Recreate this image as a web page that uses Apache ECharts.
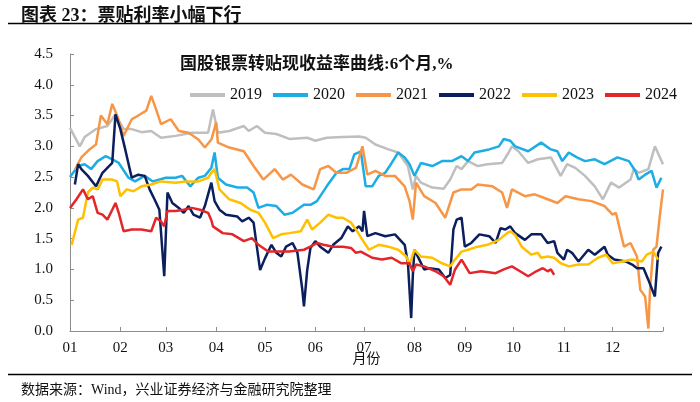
<!DOCTYPE html>
<html>
<head>
<meta charset="utf-8">
<script src="https://cdn.jsdelivr.net/npm/echarts@6/dist/echarts.min.js"></script>
<style>html,body{margin:0;padding:0;background:#fff}#c{width:700px;height:402px}</style>
</head>
<body>
<div id="c"></div>
<script>
const monthStarts = [0, 31, 59, 90, 120, 151, 181, 212, 243, 273, 304, 334];
const monthLabels = ['01', '02', '03', '04', '05', '06', '07', '08', '09', '10', '11', '12'];
const yTicks = [0, 0.5, 1, 1.5, 2, 2.5, 3, 3.5, 4, 4.5];
const seriesNames = ['2019', '2020', '2021', '2022', '2023', '2024'];

const s2019 = [[0,3.30],[6,3.00],[9,3.15],[16,3.28],[23,3.33],[28,3.52],[33,3.28],[38,3.28],[44,3.23],[50,3.25],[56,3.14],[65,3.17],[75,3.22],[85,3.22],[88,3.60],[91,3.22],[98,3.25],[107,3.33],[110,3.25],[115,3.33],[120,3.22],[127,3.20],[135,3.12],[146,3.14],[151,3.09],[158,3.14],[168,3.15],[178,3.16],[182,3.14],[188,3.03],[196,2.95],[202,2.90],[208,2.68],[211,2.30],[213,2.52],[216,2.41],[223,2.33],[230,2.31],[234,2.46],[238,2.68],[241,2.63],[245,2.76],[251,2.68],[257,2.71],[266,2.73],[270,2.90],[272,3.00],[276,2.92],[282,2.73],[288,2.79],[296,2.82],[302,2.52],[306,2.71],[311,2.65],[317,2.52],[323,2.35],[328,2.14],[333,2.41],[338,2.33],[345,2.46],[347,2.63],[350,2.57],[356,2.63],[360,3.00],[365,2.71]];
const s2020 = [[0,2.50],[5,2.68],[9,2.71],[13,2.63],[17,2.76],[22,2.84],[26,2.79],[30,2.73],[36,2.49],[40,2.43],[46,2.52],[51,2.43],[59,2.49],[65,2.49],[69,2.52],[74,2.35],[79,2.49],[83,2.52],[87,2.65],[89,2.90],[91,2.49],[96,2.38],[103,2.33],[109,2.33],[113,2.25],[116,2.00],[121,2.05],[127,2.03],[132,1.89],[137,1.92],[144,2.05],[148,2.05],[152,2.11],[158,2.35],[164,2.57],[168,2.63],[172,2.63],[175,2.87],[179,2.92],[182,2.35],[186,2.35],[190,2.52],[194,2.57],[198,2.73],[202,2.90],[206,2.82],[209,2.71],[212,2.52],[216,2.73],[223,2.68],[229,2.76],[235,2.76],[241,2.84],[245,2.76],[249,2.90],[258,2.95],[264,3.00],[267,3.12],[271,3.09],[274,3.00],[282,2.92],[290,3.06],[296,2.95],[300,2.92],[303,2.76],[307,2.90],[312,2.82],[317,2.76],[323,2.79],[329,2.71],[337,2.82],[344,2.76],[348,2.60],[350,2.46],[354,2.54],[358,2.60],[361,2.33],[364,2.49]];
const s2021 = [[3,2.62],[7,2.82],[12,2.95],[16,3.03],[19,3.50],[23,3.36],[26,3.69],[29,3.50],[33,3.17],[38,3.44],[42,3.50],[47,3.58],[50,3.82],[53,3.60],[56,3.36],[62,3.44],[67,3.25],[73,3.22],[79,3.11],[83,2.98],[87,3.11],[90,3.39],[91,3.06],[98,2.98],[107,2.92],[113,2.68],[119,2.46],[126,2.63],[131,2.46],[136,2.54],[143,2.38],[150,2.30],[154,2.63],[159,2.68],[164,2.57],[170,2.57],[176,2.65],[180,3.00],[183,2.54],[188,2.60],[194,2.52],[200,2.52],[206,2.35],[209,2.11],[211,1.81],[213,2.41],[218,2.19],[225,2.08],[231,1.84],[236,2.25],[241,2.30],[247,2.30],[251,2.38],[260,2.35],[266,2.25],[269,2.00],[272,2.30],[280,2.19],[286,2.22],[292,2.16],[300,2.08],[305,2.19],[313,2.14],[321,2.11],[329,2.03],[334,1.89],[336,1.92],[341,1.37],[345,1.43],[349,1.21],[351,0.67],[354,0.56],[356,0.04],[357,0.67],[359,1.32],[361,1.37],[363,1.86],[365,2.30]];
const s2022 = [[3,2.38],[5,2.71],[7,2.63],[11,2.52],[16,2.35],[20,2.57],[23,2.65],[26,2.73],[28,3.52],[31,3.28],[34,2.95],[38,2.49],[42,2.54],[46,2.52],[49,2.30],[52,2.14],[55,1.97],[58,0.89],[60,2.25],[63,2.08],[67,2.00],[70,1.92],[73,2.03],[76,1.89],[80,1.84],[83,2.03],[87,2.41],[89,2.11],[92,1.97],[96,1.89],[103,1.86],[106,1.78],[110,1.84],[113,1.76],[115,1.37],[117,0.99],[120,1.18],[124,1.40],[127,1.27],[130,1.21],[133,1.37],[137,1.43],[140,1.27],[143,0.67],[144,0.40],[146,0.99],[148,1.35],[151,1.46],[154,1.37],[159,1.27],[162,1.40],[167,1.51],[171,1.70],[174,1.62],[178,1.70],[180,1.62],[181,1.95],[183,1.54],[188,1.59],[194,1.54],[200,1.57],[206,1.40],[208,1.10],[210,0.21],[211,0.89],[212,1.32],[215,1.16],[218,1.00],[221,1.02],[227,1.00],[231,0.86],[234,0.91],[236,1.65],[238,1.81],[241,1.84],[243,1.37],[247,1.43],[252,1.57],[258,1.54],[262,1.43],[265,1.67],[268,1.65],[271,1.70],[274,1.59],[280,1.48],[284,1.57],[290,1.57],[294,1.43],[298,1.46],[300,1.27],[304,1.16],[306,1.32],[309,1.27],[313,1.13],[319,1.32],[323,1.24],[329,1.37],[331,1.24],[335,1.16],[342,1.13],[346,1.08],[349,1.02],[353,1.02],[356,0.83],[360,0.56],[362,1.27],[364,1.37]];
const s2023 = [[1,1.40],[5,1.81],[8,1.84],[11,2.25],[14,2.33],[17,2.30],[20,2.46],[26,2.46],[29,2.43],[31,2.19],[35,2.30],[39,2.27],[44,2.35],[50,2.38],[56,2.43],[65,2.41],[71,2.43],[79,2.43],[85,2.49],[87,2.57],[89,2.63],[92,2.30],[98,2.14],[105,2.08],[111,1.97],[116,1.92],[120,1.76],[125,1.51],[130,1.57],[135,1.59],[142,1.62],[146,1.81],[149,1.65],[154,1.76],[159,1.89],[164,1.84],[168,1.84],[173,1.76],[176,1.65],[179,1.52],[184,1.32],[190,1.40],[196,1.37],[202,1.32],[207,1.21],[209,1.08],[212,1.32],[216,1.21],[223,1.19],[229,1.10],[234,1.05],[237,1.16],[241,1.29],[245,1.32],[251,1.37],[257,1.40],[264,1.48],[269,1.59],[271,1.62],[274,1.56],[278,1.37],[284,1.24],[288,1.27],[290,1.19],[294,1.21],[298,1.19],[302,1.10],[307,1.05],[313,1.08],[319,1.08],[325,1.19],[330,1.24],[334,1.10],[340,1.13],[346,1.16],[352,1.13],[355,1.24],[359,1.29],[362,1.16]];
const s2024 = [[0,2.00],[4,2.14],[8,2.30],[11,2.14],[14,2.19],[17,1.92],[20,1.89],[23,1.81],[26,1.97],[28,2.08],[30,1.92],[33,1.62],[38,1.65],[44,1.65],[50,1.62],[53,1.84],[56,1.78],[58,1.70],[60,1.95],[65,1.95],[70,1.97],[75,2.00],[80,1.97],[85,1.92],[87,1.80],[88,1.70],[94,1.59],[100,1.57],[107,1.46],[112,1.51],[116,1.40],[122,1.29],[129,1.29],[135,1.29],[144,1.32],[148,1.37],[152,1.43],[156,1.40],[162,1.37],[168,1.37],[173,1.35],[176,1.27],[179,1.29],[186,1.19],[192,1.16],[198,1.19],[204,1.10],[209,1.10],[211,0.97],[213,1.08],[218,1.05],[225,0.97],[230,0.89],[234,0.75],[237,1.00],[241,1.16],[246,0.94],[253,0.97],[262,0.94],[267,1.00],[272,1.05],[277,0.97],[282,0.89],[287,0.97],[291,1.02],[294,0.97],[296,1.00],[298,0.91]];

const seriesData = [s2019, s2020, s2021, s2022, s2023, s2024];
const colors = ['#BFBFBF', '#1CADE4', '#F79646', '#0B1F5E', '#FFC000', '#E3262A'];
const FONT = "'Liberation Serif', 'Noto Sans CJK SC', serif";

const chart = echarts.init(document.getElementById('c'), null, {renderer: 'canvas'});
chart.setOption({
  animation: false,
  backgroundColor: '#fff',
  color: colors,
  title: [
    {text: '图表 23：票贴利率小幅下行', left: 16, top: 2,
     textStyle: {fontSize: 18, fontWeight: 'bold', color: '#111', fontFamily: FONT}},
    {text: '国股银票转贴现收益率曲线:6个月,%', left: 175, top: 51,
     textStyle: {fontSize: 17, fontWeight: 'bold', color: '#111', fontFamily: FONT}},
    {text: '数据来源：Wind，兴业证券经济与金融研究院整理', left: 16, top: 378,
     textStyle: {fontSize: 14, fontWeight: 'normal', color: '#111', fontFamily: FONT}}
  ],
  graphic: [
    {type: 'line', shape: {x1: 8, y1: 23.5, x2: 692, y2: 23.5}, style: {stroke: '#000', lineWidth: 1.5}},
    {type: 'line', shape: {x1: 8, y1: 374.5, x2: 692, y2: 374.5}, style: {stroke: '#000', lineWidth: 1.5}}
  ],
  legend: {
    data: seriesNames, left: 185, top: 82, itemWidth: 35, itemHeight: 4, itemGap: 11,
    icon: 'rect',
    textStyle: {fontSize: 16, color: '#111', fontFamily: FONT}
  },
  grid: {left: 70, right: 37, top: 54, bottom: 71},
  xAxis: {
    type: 'value', min: 0, max: 365,
    name: '月份', nameLocation: 'middle', nameGap: 21, nameMoveOverlap: false,
    nameTextStyle: {fontSize: 14, color: '#111', fontFamily: FONT},
    axisLine: {show: true, lineStyle: {color: '#8c8c8c', width: 1}},
    axisTick: {show: true, inside: true, length: 4, customValues: monthStarts.concat([365]), lineStyle: {color: '#8c8c8c'}},
    axisLabel: {
      customValues: monthStarts, margin: 10, fontSize: 15, color: '#111', fontFamily: FONT,
      formatter: v => monthLabels[monthStarts.indexOf(v)] || ''
    },
    splitLine: {show: false}
  },
  yAxis: {
    type: 'value', min: 0, max: 4.5, interval: 0.5,
    axisLine: {show: true, lineStyle: {color: '#8c8c8c', width: 1}},
    axisTick: {show: true, inside: true, length: 4, lineStyle: {color: '#8c8c8c'}},
    axisLabel: {margin: 17, fontSize: 15, color: '#111', fontFamily: FONT, formatter: v => v.toFixed(1)},
    splitLine: {show: false}
  },
  series: seriesNames.map((n, i) => ({
    name: n, type: 'line', data: seriesData[i], showSymbol: false, symbol: 'none',
    lineStyle: {width: 2.5, color: colors[i]}, itemStyle: {color: colors[i]}
  }))
});
</script>
</body>
</html>
